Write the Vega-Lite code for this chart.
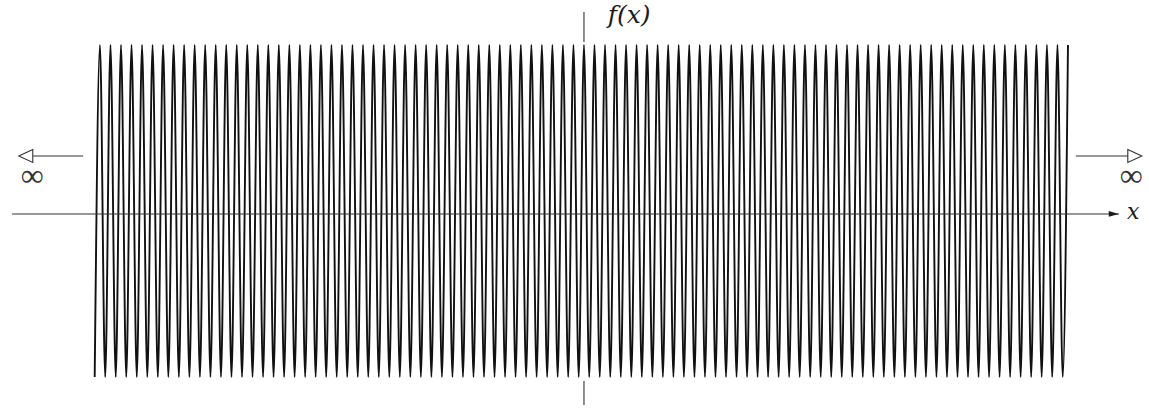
{
  "$schema": "https://vega.github.io/schema/vega-lite/v6.json",
  "width": 1149,
  "height": 408,
  "padding": 0,
  "autosize": {"type": "fit", "contains": "padding"},
  "background": "white",
  "config": {"view": {"stroke": null}},
  "datasets": {
    "wave": [
      {"x":-93,"y":-0.965},{"x":-92,"y":1},{"x":-91,"y":-0.965},{"x":-90,"y":1},{"x":-89,"y":-0.965},{"x":-88,"y":1},{"x":-87,"y":-0.965},{"x":-86,"y":1},{"x":-85,"y":-0.965},{"x":-84,"y":1},
      {"x":-83,"y":-0.965},{"x":-82,"y":1},{"x":-81,"y":-0.965},{"x":-80,"y":1},{"x":-79,"y":-0.965},{"x":-78,"y":1},{"x":-77,"y":-0.965},{"x":-76,"y":1},{"x":-75,"y":-0.965},{"x":-74,"y":1},
      {"x":-73,"y":-0.965},{"x":-72,"y":1},{"x":-71,"y":-0.965},{"x":-70,"y":1},{"x":-69,"y":-0.965},{"x":-68,"y":1},{"x":-67,"y":-0.965},{"x":-66,"y":1},{"x":-65,"y":-0.965},{"x":-64,"y":1},
      {"x":-63,"y":-0.965},{"x":-62,"y":1},{"x":-61,"y":-0.965},{"x":-60,"y":1},{"x":-59,"y":-0.965},{"x":-58,"y":1},{"x":-57,"y":-0.965},{"x":-56,"y":1},{"x":-55,"y":-0.965},{"x":-54,"y":1},
      {"x":-53,"y":-0.965},{"x":-52,"y":1},{"x":-51,"y":-0.965},{"x":-50,"y":1},{"x":-49,"y":-0.965},{"x":-48,"y":1},{"x":-47,"y":-0.965},{"x":-46,"y":1},{"x":-45,"y":-0.965},{"x":-44,"y":1},
      {"x":-43,"y":-0.965},{"x":-42,"y":1},{"x":-41,"y":-0.965},{"x":-40,"y":1},{"x":-39,"y":-0.965},{"x":-38,"y":1},{"x":-37,"y":-0.965},{"x":-36,"y":1},{"x":-35,"y":-0.965},{"x":-34,"y":1},
      {"x":-33,"y":-0.965},{"x":-32,"y":1},{"x":-31,"y":-0.965},{"x":-30,"y":1},{"x":-29,"y":-0.965},{"x":-28,"y":1},{"x":-27,"y":-0.965},{"x":-26,"y":1},{"x":-25,"y":-0.965},{"x":-24,"y":1},
      {"x":-23,"y":-0.965},{"x":-22,"y":1},{"x":-21,"y":-0.965},{"x":-20,"y":1},{"x":-19,"y":-0.965},{"x":-18,"y":1},{"x":-17,"y":-0.965},{"x":-16,"y":1},{"x":-15,"y":-0.965},{"x":-14,"y":1},
      {"x":-13,"y":-0.965},{"x":-12,"y":1},{"x":-11,"y":-0.965},{"x":-10,"y":1},{"x":-9,"y":-0.965},{"x":-8,"y":1},{"x":-7,"y":-0.965},{"x":-6,"y":1},{"x":-5,"y":-0.965},{"x":-4,"y":1},
      {"x":-3,"y":-0.965},{"x":-2,"y":1},{"x":-1,"y":-0.965},{"x":0,"y":1},{"x":1,"y":-0.965},{"x":2,"y":1},{"x":3,"y":-0.965},{"x":4,"y":1},{"x":5,"y":-0.965},{"x":6,"y":1},
      {"x":7,"y":-0.965},{"x":8,"y":1},{"x":9,"y":-0.965},{"x":10,"y":1},{"x":11,"y":-0.965},{"x":12,"y":1},{"x":13,"y":-0.965},{"x":14,"y":1},{"x":15,"y":-0.965},{"x":16,"y":1},
      {"x":17,"y":-0.965},{"x":18,"y":1},{"x":19,"y":-0.965},{"x":20,"y":1},{"x":21,"y":-0.965},{"x":22,"y":1},{"x":23,"y":-0.965},{"x":24,"y":1},{"x":25,"y":-0.965},{"x":26,"y":1},
      {"x":27,"y":-0.965},{"x":28,"y":1},{"x":29,"y":-0.965},{"x":30,"y":1},{"x":31,"y":-0.965},{"x":32,"y":1},{"x":33,"y":-0.965},{"x":34,"y":1},{"x":35,"y":-0.965},{"x":36,"y":1},
      {"x":37,"y":-0.965},{"x":38,"y":1},{"x":39,"y":-0.965},{"x":40,"y":1},{"x":41,"y":-0.965},{"x":42,"y":1},{"x":43,"y":-0.965},{"x":44,"y":1},{"x":45,"y":-0.965},{"x":46,"y":1},
      {"x":47,"y":-0.965},{"x":48,"y":1},{"x":49,"y":-0.965},{"x":50,"y":1},{"x":51,"y":-0.965},{"x":52,"y":1},{"x":53,"y":-0.965},{"x":54,"y":1},{"x":55,"y":-0.965},{"x":56,"y":1},
      {"x":57,"y":-0.965},{"x":58,"y":1},{"x":59,"y":-0.965},{"x":60,"y":1},{"x":61,"y":-0.965},{"x":62,"y":1},{"x":63,"y":-0.965},{"x":64,"y":1},{"x":65,"y":-0.965},{"x":66,"y":1},
      {"x":67,"y":-0.965},{"x":68,"y":1},{"x":69,"y":-0.965},{"x":70,"y":1},{"x":71,"y":-0.965},{"x":72,"y":1},{"x":73,"y":-0.965},{"x":74,"y":1},{"x":75,"y":-0.965},{"x":76,"y":1},
      {"x":77,"y":-0.965},{"x":78,"y":1},{"x":79,"y":-0.965},{"x":80,"y":1},{"x":81,"y":-0.965},{"x":82,"y":1},{"x":83,"y":-0.965},{"x":84,"y":1},{"x":85,"y":-0.965},{"x":86,"y":1},
      {"x":87,"y":-0.965},{"x":88,"y":1},{"x":89,"y":-0.965},{"x":90,"y":1},{"x":91,"y":-0.965},{"x":92,"y":1}
    ],
    "segments": [
      {"part": "x axis", "x": -108.7, "x2": 101.7, "y": 0, "y2": 0},
      {"part": "f axis top", "x": 0, "x2": 0, "y": 1.195, "y2": 1.018},
      {"part": "f axis bottom", "x": 0, "x2": 0, "y": -0.988, "y2": -1.13},
      {"part": "left arrow", "x": -104.7, "x2": -95.2, "y": 0.343, "y2": 0.343},
      {"part": "right arrow", "x": 93.5, "x2": 103.4, "y": 0.343, "y2": 0.343}
    ],
    "heads": [
      {"kind": "axis", "x": 100.7, "y": 0},
      {"kind": "left", "x": -106.1, "y": 0.343},
      {"kind": "right", "x": 104.7, "y": 0.343}
    ],
    "labels": [
      {"kind": "italic", "text": "f(x)", "size": "big", "x": 4.5, "y": 1.13},
      {"kind": "italic", "text": "x", "size": "small", "x": 103.2, "y": -0.032},
      {"kind": "symbol", "text": "∞", "x": -104.9, "y": 0.225},
      {"kind": "symbol", "text": "∞", "x": 104.0, "y": 0.225}
    ]
  },
  "encoding": {
    "x": {"field": "x", "type": "quantitative", "axis": null, "scale": {"domain": [-111.0, 107.4], "nice": false, "zero": false}},
    "y": {"field": "y", "type": "quantitative", "axis": null, "scale": {"domain": [-1.148, 1.266], "nice": false, "zero": false}}
  },
  "layer": [
    {
      "data": {"name": "wave"},
      "mark": {"type": "line", "interpolate": "monotone", "stroke": "#111111", "strokeWidth": 1.9},
      "encoding": {}
    },
    {
      "data": {"name": "segments"},
      "mark": {"type": "rule", "stroke": "#333333", "strokeWidth": 1.1},
      "encoding": {
        "x2": {"field": "x2"},
        "y2": {"field": "y2"}
      }
    },
    {
      "data": {"name": "heads"},
      "transform": [{"filter": "datum.kind === 'axis'"}],
      "mark": {"type": "point", "shape": "M-1,-0.57L1,0L-1,0.57Z", "size": 100, "filled": true, "fill": "#1c1c1c", "opacity": 1, "strokeWidth": 0}
    },
    {
      "data": {"name": "heads"},
      "transform": [{"filter": "datum.kind === 'left'"}],
      "mark": {"type": "point", "shape": "M1,-0.93L-1,0L1,0.93Z", "size": 196, "filled": false, "stroke": "#333333", "strokeWidth": 1.1, "opacity": 1}
    },
    {
      "data": {"name": "heads"},
      "transform": [{"filter": "datum.kind === 'right'"}],
      "mark": {"type": "point", "shape": "M-1,-0.93L1,0L-1,0.93Z", "size": 196, "filled": false, "stroke": "#333333", "strokeWidth": 1.1, "opacity": 1}
    },
    {
      "data": {"name": "labels"},
      "transform": [{"filter": "datum.kind === 'italic' && datum.size === 'big'"}],
      "mark": {"type": "text", "font": "DejaVu Serif", "fontStyle": "italic", "fontSize": 25, "align": "left", "baseline": "alphabetic", "fill": "#1c1c1c"},
      "encoding": {"text": {"field": "text"}}
    },
    {
      "data": {"name": "labels"},
      "transform": [{"filter": "datum.kind === 'italic' && datum.size === 'small'"}],
      "mark": {"type": "text", "font": "DejaVu Serif", "fontStyle": "italic", "fontSize": 22, "align": "left", "baseline": "alphabetic", "fill": "#1c1c1c"},
      "encoding": {"text": {"field": "text"}}
    },
    {
      "data": {"name": "labels"},
      "transform": [{"filter": "datum.kind === 'symbol'"}],
      "mark": {"type": "text", "font": "Liberation Serif", "fontSize": 32, "align": "center", "baseline": "middle", "fill": "#333333"},
      "encoding": {"text": {"field": "text"}}
    }
  ]
}
